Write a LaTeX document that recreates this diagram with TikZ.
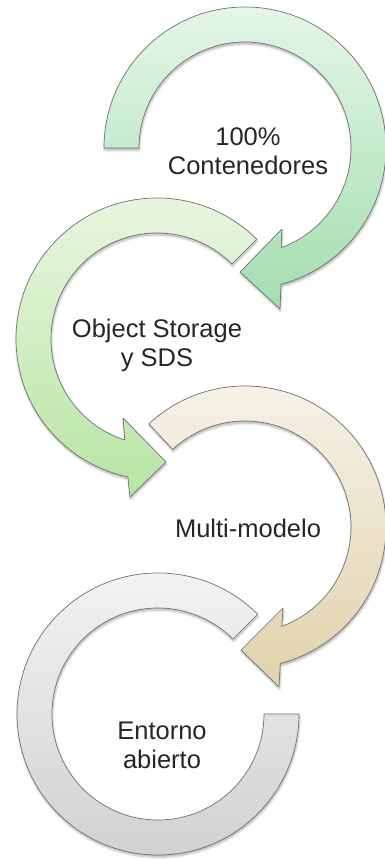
\documentclass[tikz,border=0pt]{standalone}
\usepackage{fontspec}
\setmainfont{Liberation Sans}
\usetikzlibrary{shadows.blur}
\definecolor{gAtop}{RGB}{228,246,232}
\definecolor{gAbot}{RGB}{163,222,174}
\definecolor{gBtop}{RGB}{234,246,226}
\definecolor{gBbot}{RGB}{184,229,163}
\definecolor{bCtop}{RGB}{246,243,234}
\definecolor{bCbot}{RGB}{225,210,172}
\definecolor{gDtop}{RGB}{244,244,244}
\definecolor{gDbot}{RGB}{208,208,208}
\definecolor{edge}{RGB}{112,112,112}
\definecolor{txt}{RGB}{38,38,38}
\tikzset{
  ringarrow/.style={draw=edge, line width=0.7pt, line join=round,
    blur shadow={shadow xshift=0.6pt, shadow yshift=-2.2pt, shadow blur steps=6, shadow opacity=30}},
  lbl/.style={text=txt, align=center, font=\fontsize{25.5}{29}\selectfont, inner sep=0pt}
}
\begin{document}
\begin{tikzpicture}[x=1pt,y=1pt]
\useasboundingbox (0,0) rectangle (385,859);
% arrow 4 (gray ring, no head)
\path[ringarrow, top color=gDtop, bottom color=gDbot, shift={(158,145)}]
  (45:141) arc[start angle=45, end angle=360, radius=141]
  -- (0:106) arc[start angle=360, end angle=45, radius=106] -- cycle;
% arrow 3 (beige)
\path[ringarrow, top color=bCtop, bottom color=bCbot, shift={(245,332)}]
  (133:141) arc[start angle=133, end angle=-75.5, radius=141]
  -- (34,-160) -- (-4,-123) -- (38,-81) -- (-69.7:106)
  arc[start angle=-69.7, end angle=133, radius=106] -- cycle;
% arrow 2 (light green)
\path[ringarrow, top color=gBtop, bottom color=gBbot, shift={(157,520)}]
  (45:141) arc[start angle=45, end angle=258.1, radius=141]
  -- (-27,-158) -- (9,-123) -- (-34,-79) -- (252.3:106)
  arc[start angle=252.3, end angle=45, radius=106] -- cycle;
% arrow 1 (mint green)
\path[ringarrow, top color=gAtop, bottom color=gAbot, shift={(245,711)}]
  (180:141) arc[start angle=180, end angle=-75.2, radius=141]
  -- (35,-161) -- (-5,-124) -- (37,-81) -- (-70.1:106)
  arc[start angle=-70.1, end angle=180, radius=106] -- cycle;
% labels
\node[lbl] (t1) at (248,708) {100\%\\Contenedores};
\node[lbl] (t2) at (157,514) {Object Storage\\y SDS};
\node[lbl] (t3) at (248,330.5) {Multi-modelo};
\node[lbl] (t4) at (162,114) {Entorno\\abierto};
\end{tikzpicture}
\end{document}
